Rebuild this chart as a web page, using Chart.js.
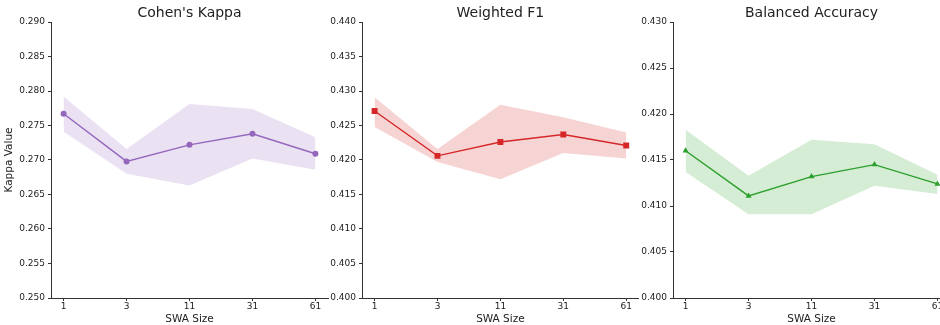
<!DOCTYPE html>
<html>
<head>
<meta charset="utf-8">
<script src="https://cdn.jsdelivr.net/npm/chart.js@4/dist/chart.umd.min.js"></script>
<style>
  html, body { margin: 0; padding: 0; background: #fff; overflow: hidden; }
  #wrap { position: relative; width: 940px; height: 325px; overflow: hidden; }
  canvas { position: absolute; top: 0; }
</style>
</head>
<body>
<div id="wrap">
  <canvas id="kappaChart" width="332" height="325" style="left:0px"></canvas>
  <canvas id="f1Chart" width="332" height="325" style="left:311px"></canvas>
  <canvas id="baChart" width="332" height="325" style="left:622px"></canvas>
</div>
<script>
// SWA sizes on the x axis
const swaSizes = ["1", "3", "11", "31", "61"];

// Cohen's Kappa
const kappaMean = [0.2767, 0.2698, 0.2722, 0.2738, 0.2709];
const kappaUpper = [0.2792, 0.2716, 0.2781, 0.2774, 0.2733];
const kappaLower = [0.2741, 0.2680, 0.2663, 0.2702, 0.2686];

// Weighted F1
const f1Mean = [0.4271, 0.4206, 0.4226, 0.4237, 0.4221];
const f1Upper = [0.4291, 0.4216, 0.4280, 0.4262, 0.4240];
const f1Lower = [0.4248, 0.4197, 0.4172, 0.4210, 0.4202];

// Balanced Accuracy
const baMean = [0.4160, 0.4111, 0.4132, 0.4145, 0.4124];
const baUpper = [0.4183, 0.4133, 0.4172, 0.4167, 0.4134];
const baLower = [0.4137, 0.4091, 0.4091, 0.4122, 0.4113];

const FONT = "'DejaVu Sans', sans-serif";
const TEXT = "#222";
const AXIS = "#333";

const toPoints = arr => arr.map((v, i) => ({ x: i, y: v }));

function makePanel(id, title, mean, upper, lower, yMin, yMax, color, band, marker, markerSize, yLabel) {
  return new Chart(document.getElementById(id), {
    type: "line",
    data: {
      datasets: [
        {
          // mean line drawn on top
          data: toPoints(mean),
          xAxisID: "x",
          yAxisID: "y",
          borderColor: color,
          backgroundColor: color,
          borderWidth: 1.4,
          pointStyle: marker,
          pointRadius: markerSize,
          pointBorderWidth: 0,
          fill: false
        },
        {
          data: toPoints(lower),
          xAxisID: "x",
          yAxisID: "y",
          borderWidth: 0,
          pointRadius: 0,
          fill: false
        },
        {
          data: toPoints(upper),
          xAxisID: "x",
          yAxisID: "y",
          borderWidth: 0,
          pointRadius: 0,
          backgroundColor: band,
          fill: "-1"
        }
      ]
    },
    options: {
      responsive: false,
      animation: false,
      layout: { padding: 0 },
      plugins: {
        legend: { display: false },
        tooltip: { enabled: false }
      },
      scales: {
        // empty top axis, only used to centre the panel title over the plot area
        top: {
          type: "linear",
          position: "top",
          display: true,
          min: 0,
          max: 1,
          afterFit: s => { s.height = 22; },
          ticks: { display: false },
          grid: { display: false },
          border: { display: false },
          title: {
            display: true,
            text: title,
            color: TEXT,
            font: { family: FONT, size: 14, lineHeight: 1.2 },
            padding: { top: 4.6, bottom: 0.6 }
          }
        },
        x: {
          type: "linear",
          position: "bottom",
          min: -0.2,
          max: 4.2,
          afterBuildTicks: s => { s.ticks = swaSizes.map((_, i) => ({ value: i })); },
          afterFit: s => { s.height = 27; },
          ticks: {
            color: TEXT,
            font: { family: FONT, size: 9 },
            padding: 0,
            maxRotation: 0,
            callback: v => swaSizes[v]
          },
          grid: { display: true, drawOnChartArea: false, drawTicks: true, tickLength: 3, color: AXIS },
          border: { display: true, color: AXIS, width: 1 },
          title: {
            display: true,
            text: "SWA Size",
            color: TEXT,
            font: { family: FONT, size: 10.5, lineHeight: 1 },
            padding: 0
          }
        },
        y: {
          position: "left",
          min: yMin,
          max: yMax,
          afterFit: s => { s.width = 51; },
          ticks: {
            stepSize: 0.005,
            color: TEXT,
            font: { family: FONT, size: 9 },
            padding: 3,
            callback: v => v.toFixed(3)
          },
          grid: { display: true, drawOnChartArea: false, drawTicks: true, tickLength: 3, color: AXIS },
          border: { display: true, color: AXIS, width: 1 },
          title: {
            display: !!yLabel,
            text: yLabel || "",
            color: TEXT,
            font: { family: FONT, size: 10.5, lineHeight: 1 },
            padding: { top: 4, bottom: 0 }
          }
        }
      }
    }
  });
}

makePanel("kappaChart", "Cohen's Kappa", kappaMean, kappaUpper, kappaLower, 0.25, 0.29,
  "#9467bd", "rgba(148,103,189,0.2)", "circle", 3, "Kappa Value");
makePanel("f1Chart", "Weighted F1", f1Mean, f1Upper, f1Lower, 0.40, 0.44,
  "#d62728", "rgba(214,39,40,0.2)", "rect", 4.2, null);
makePanel("baChart", "Balanced Accuracy", baMean, baUpper, baLower, 0.40, 0.43,
  "#2ca02c", "rgba(44,160,44,0.2)", "triangle", 3.5, null);
</script>
</body>
</html>
